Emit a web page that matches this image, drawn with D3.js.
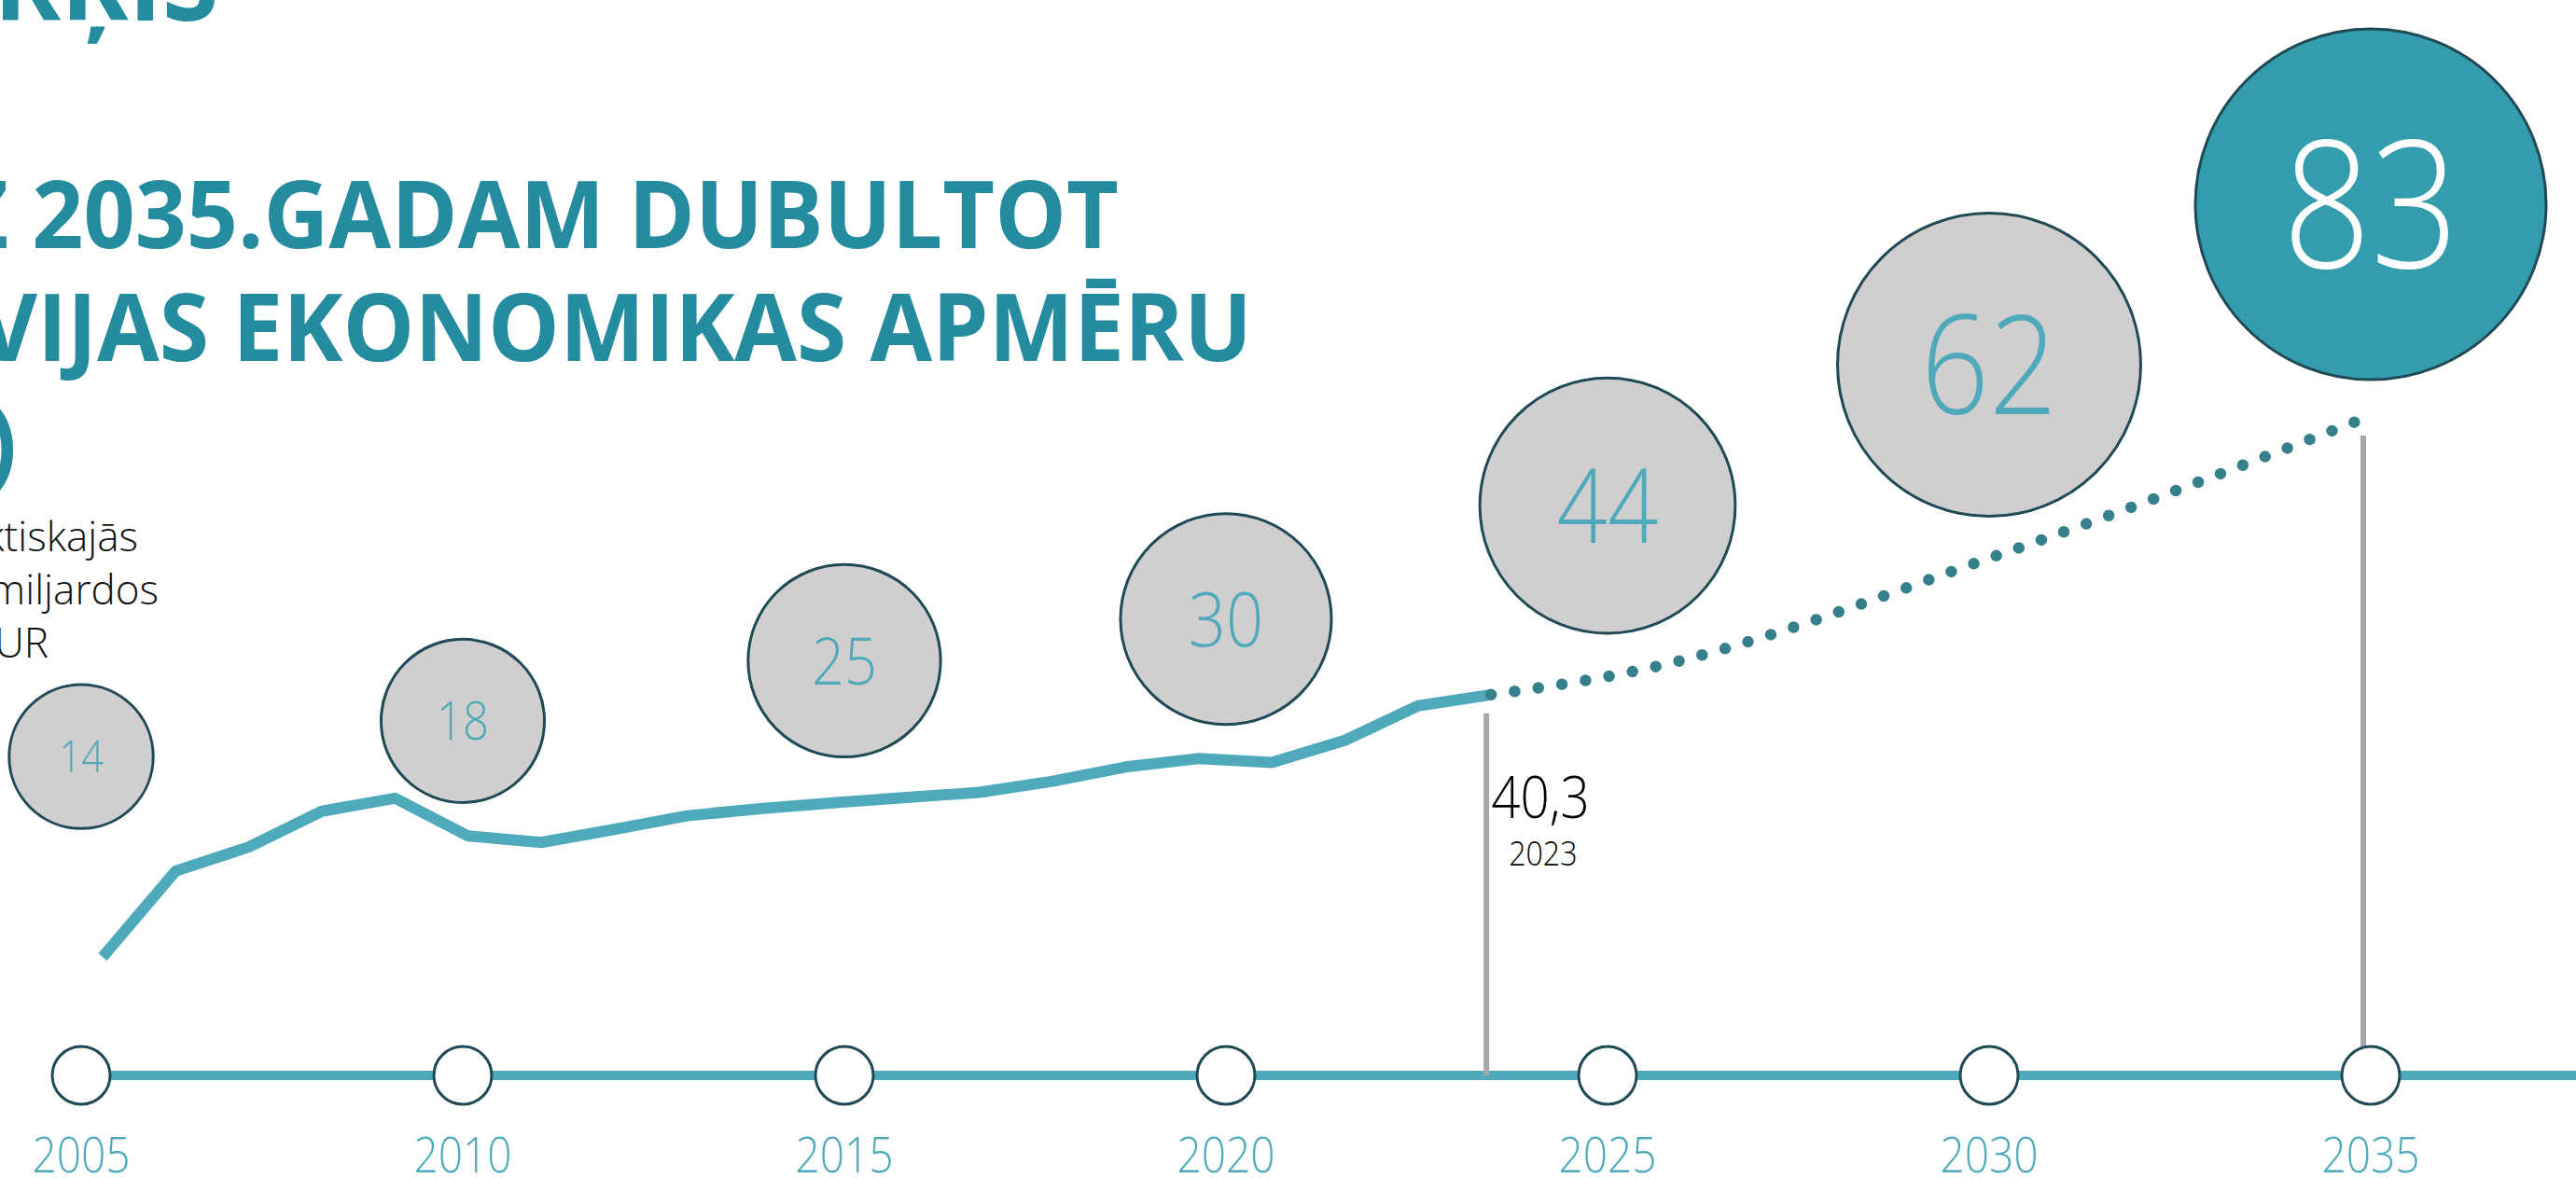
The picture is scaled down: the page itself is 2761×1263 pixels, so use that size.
<!DOCTYPE html>
<html>
<head>
<meta charset="utf-8">
<script src="https://cdn.jsdelivr.net/npm/d3@7"></script>
<style>
  html, body { margin: 0; padding: 0; background: #fff; overflow: hidden; }
  text { font-family: "Open Sans", "Noto Sans", sans-serif; }
</style>
</head>
<body>
<script>
// IKP faktiskajās cenās, mljrd EUR
var years = [2004, 2005, 2006, 2007, 2008, 2009, 2010, 2011, 2012, 2013,
	2014, 2015, 2016, 2017, 2018, 2019, 2020, 2021, 2022, 2023];
var gdp = [0, 13.2, 16.9, 22.4, 24.4, 18.6, 17.6, 19.6, 21.7, 22.8,
	23.7, 24.5, 25.3, 27.0, 29.2, 30.5, 29.9, 33.3, 38.6, 40.3];

// mērķa trajektorija
var targetYears = [2023, 2025, 2030, 2035];
var targetValues = [40.3, 44, 62, 83];

// burbuļi
var bubbleYears = [2005, 2010, 2015, 2020, 2025, 2030, 2035];
var bubbleValues = [14, 18, 25, 30, 44, 62, 83];

var tickYears = [2005, 2010, 2015, 2020, 2025, 2030, 2035];

var width = 2761,
	height = 1263,
	axisY = 1153,
	narrow = 0.87; // Segoe-like letter width

var teal = "#4eaabb",
	darkTeal = "#367f8d",
	titleTeal = "#248c9e",
	outline = "#1f4a55";

// axis (timeline) scale and line scale differ slightly in the original
var xAxis = d3.scaleLinear().domain([2005, 2035]).range([87, 2541]);
var x = d3.scaleLinear().domain([2004, 2035]).range([110, 2538]);
var y = d3.scaleLinear().domain([0, 83]).range([1026, 447]);
var r = d3.scaleSqrt().domain([0, 83]).range([0, 188]);
var fontSize = d3.scaleLinear().domain([14, 83]).range([48, 190]);

var svg = d3.select("body").append("svg")
	.attr("width", width)
	.attr("height", height);

// squeeze a right-anchored text so its visible tail spans [left, right]
function fit(sel, right, base, skip, left) {
	var node = sel.node(),
		n = node.getNumberOfChars(),
		w = node.getSubStringLength(skip, n - skip),
		sx = (right - left) / w;
	sel.attr("transform", "translate(" + right + "," + base + ") scale(" + sx + ",1)");
	return sx;
}

// titles (cropped on the left)
var titleLines = ["LĪDZ 2035.GADAM DUBULTOT", "LATVIJAS EKONOMIKAS APMĒRU"];
var titleRight = [1199, 1342];
var titleBase = [266, 387];
var titleSkip = [5, 4];
var titleLeft = [34, 40];
var sxTitle = 1;
titleLines.forEach(function(t, i) {
	var txt = svg.append("text")
		.attr("text-anchor", "end")
		.attr("fill", titleTeal)
		.style("font-weight", 700)
		.style("font-size", "101px")
		.text(t);
	sxTitle = fit(txt, titleRight[i], titleBase[i], titleSkip[i], titleLeft[i]);
});

svg.append("text")
	.attr("text-anchor", "end")
	.attr("transform", "translate(234,22) scale(" + sxTitle + ",1)")
	.attr("fill", titleTeal)
	.style("font-weight", 700)
	.style("font-size", "114px")
	.text("MĒRĶIS");

svg.append("text")
	.attr("text-anchor", "end")
	.attr("transform", "translate(18,510) scale(" + sxTitle + ",1)")
	.attr("fill", titleTeal)
	.style("font-weight", 700)
	.style("font-size", "101px")
	.text("(IKP)");

var subLines = ["IKP faktiskajās", "cenās, miljardos", "EUR"];
var subRight = [148, 170, 52];
svg.selectAll(".sub")
	.data(subLines)
	.enter().append("text")
	.attr("class", "sub")
	.attr("text-anchor", "end")
	.attr("transform", function(d, i) {
		return "translate(" + subRight[i] + "," + (591 + i * 57) + ")";
	})
	.attr("fill", "#111")
	.style("font-weight", 300)
	.style("font-size", "44px")
	.text(function(d) { return d; });

// timeline axis
svg.append("line")
	.attr("x1", xAxis(2005)).attr("x2", width)
	.attr("y1", axisY).attr("y2", axisY)
	.attr("stroke", teal)
	.attr("stroke-width", 10);

// grey drop lines
var dropYears = [2023, 2035];
var dropValues = [40.3, 83];
svg.selectAll(".drop")
	.data(dropYears)
	.enter().append("line")
	.attr("class", "drop")
	.attr("x1", function(d) { return x(d) - 5; })
	.attr("x2", function(d) { return x(d) - 5; })
	.attr("y1", function(d, i) { return y(dropValues[i]) + 20; })
	.attr("y2", axisY)
	.attr("stroke", "#a6a6a6")
	.attr("stroke-width", 6);

var ticks = svg.selectAll(".tick")
	.data(tickYears)
	.enter().append("g")
	.attr("class", "tick")
	.attr("transform", function(d) { return "translate(" + xAxis(d) + "," + axisY + ")"; });
ticks.append("circle")
	.attr("r", 31)
	.attr("fill", "#fff")
	.attr("stroke", outline)
	.attr("stroke-width", 3);
ticks.append("text")
	.attr("transform", "translate(0,104) scale(" + narrow + ",1)")
	.attr("text-anchor", "middle")
	.attr("fill", teal)
	.style("font-weight", 300)
	.style("font-size", "53px")
	.text(function(d) { return d; });

// historic line
var line = d3.line()
	.x(function(d, i) { return x(years[i]); })
	.y(function(d) { return y(d); });
svg.append("path")
	.datum(gdp)
	.attr("fill", "none")
	.attr("stroke", teal)
	.attr("stroke-width", 12)
	.attr("stroke-linejoin", "round")
	.attr("d", line);

// dotted target path
var targetLine = d3.line()
	.curve(d3.curveMonotoneX)
	.x(function(d, i) { return x(targetYears[i]); })
	.y(function(d) { return y(d); });
svg.append("path")
	.datum(targetValues)
	.attr("fill", "none")
	.attr("stroke", darkTeal)
	.attr("stroke-width", 12.5)
	.attr("stroke-linecap", "round")
	.attr("stroke-dasharray", "0,25.6")
	.attr("d", targetLine);

// 2023 label
svg.append("text")
	.attr("transform", "translate(" + x(2023) + ",877) scale(" + narrow + ",1)")
	.attr("fill", "#000")
	.style("font-weight", 300)
	.style("font-size", "63px")
	.text("40,3");
svg.append("text")
	.attr("transform", "translate(" + (x(2023) + 19) + ",928) scale(" + narrow + ",1)")
	.attr("fill", "#000")
	.style("font-weight", 300)
	.style("font-size", "37px")
	.text("2023");

// bubbles
var bubbles = svg.selectAll(".bubble")
	.data(bubbleValues)
	.enter().append("g")
	.attr("class", "bubble")
	.attr("transform", function(d, i) {
		return "translate(" + xAxis(bubbleYears[i]) + "," + (y(d) - r(d) - 40) + ")";
	});
bubbles.append("circle")
	.attr("r", function(d) { return r(d); })
	.attr("fill", function(d, i) { return i == bubbleValues.length - 1 ? "#339dae" : "#d0cecf"; })
	.attr("stroke", outline)
	.attr("stroke-width", 3);
bubbles.append("text")
	.attr("transform", "scale(" + narrow + ",1)")
	.attr("text-anchor", "middle")
	.attr("dy", "0.36em")
	.attr("fill", function(d, i) { return i == bubbleValues.length - 1 ? "#fff" : teal; })
	.style("font-weight", 300)
	.style("font-size", function(d) { return fontSize(d) + "px"; })
	.text(function(d) { return d; });
</script>
</body>
</html>
